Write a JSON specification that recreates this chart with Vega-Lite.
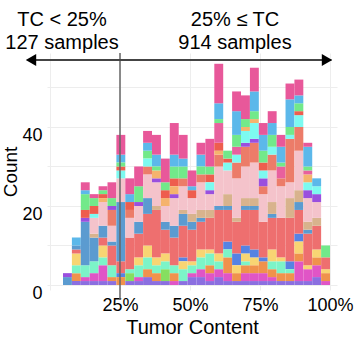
{
  "$schema": "https://vega.github.io/schema/vega-lite/v6.json",
  "width": 290,
  "height": 237,
  "autosize": {"type": "none"},
  "padding": {"left": 47, "top": 53, "right": 19, "bottom": 47},
  "background": "white",
  "config": {
    "font": "Liberation Sans",
    "view": {"stroke": null},
    "axis": {"labelFont": "Liberation Sans", "titleFont": "Liberation Sans"}
  },
  "datasets": {
    "bins": [
      {"b":0,"lo":4.64,"hi":7.82},{"b":1,"lo":7.82,"hi":11.0},{"b":2,"lo":11.0,"hi":14.18},{"b":3,"lo":14.18,"hi":17.36},
      {"b":4,"lo":17.36,"hi":20.54},{"b":5,"lo":20.54,"hi":23.71},{"b":6,"lo":23.71,"hi":26.89},{"b":7,"lo":26.89,"hi":30.07},
      {"b":8,"lo":30.07,"hi":33.25},{"b":9,"lo":33.25,"hi":36.43},{"b":10,"lo":36.43,"hi":39.61},{"b":11,"lo":39.61,"hi":42.79},
      {"b":12,"lo":42.79,"hi":45.97},{"b":13,"lo":45.97,"hi":49.15},{"b":14,"lo":49.15,"hi":52.33},{"b":15,"lo":52.33,"hi":55.5},
      {"b":16,"lo":55.5,"hi":58.68},{"b":17,"lo":58.68,"hi":61.86},{"b":18,"lo":61.86,"hi":65.04},{"b":19,"lo":65.04,"hi":68.22},
      {"b":20,"lo":68.22,"hi":71.4},{"b":21,"lo":71.4,"hi":74.58},{"b":22,"lo":74.58,"hi":77.76},{"b":23,"lo":77.76,"hi":80.94},
      {"b":24,"lo":80.94,"hi":84.12},{"b":25,"lo":84.12,"hi":87.29},{"b":26,"lo":87.29,"hi":90.47},{"b":27,"lo":90.47,"hi":93.65},
      {"b":28,"lo":93.65,"hi":96.83},{"b":29,"lo":96.83,"hi":100.0}
    ],
    "segs": [
      {"b":0,"c":8,"n":2},{"b":0,"c":12,"n":1},
      {"b":1,"c":0,"n":1},{"b":1,"c":2,"n":2},{"b":1,"c":4,"n":2},{"b":1,"c":5,"n":3},{"b":1,"c":7,"n":1},{"b":1,"c":8,"n":1},{"b":1,"c":18,"n":2},
      {"b":2,"c":0,"n":1},{"b":2,"c":1,"n":1},{"b":2,"c":4,"n":3},{"b":2,"c":8,"n":11},{"b":2,"c":12,"n":1},{"b":2,"c":17,"n":4},{"b":2,"c":15,"n":2},{"b":2,"c":18,"n":1},{"b":2,"c":19,"n":2},
      {"b":3,"c":0,"n":1},{"b":3,"c":1,"n":2},{"b":3,"c":4,"n":3},{"b":3,"c":8,"n":6},{"b":3,"c":9,"n":1},{"b":3,"c":10,"n":4},{"b":3,"c":13,"n":1},{"b":3,"c":15,"n":2},{"b":3,"c":17,"n":2},{"b":3,"c":19,"n":1},
      {"b":4,"c":0,"n":1},{"b":4,"c":1,"n":4},{"b":4,"c":4,"n":2},{"b":4,"c":5,"n":3},{"b":4,"c":7,"n":2},{"b":4,"c":8,"n":3},{"b":4,"c":10,"n":6},{"b":4,"c":17,"n":1},{"b":4,"c":15,"n":1},{"b":4,"c":14,"n":1},{"b":4,"c":19,"n":1},
      {"b":5,"c":0,"n":1},{"b":5,"c":2,"n":1},{"b":5,"c":4,"n":3},{"b":5,"c":7,"n":5},{"b":5,"c":8,"n":1},{"b":5,"c":10,"n":4},{"b":5,"c":11,"n":4},{"b":5,"c":12,"n":1},{"b":5,"c":17,"n":2},{"b":5,"c":19,"n":4},
      {"b":6,"c":6,"n":1},{"b":6,"c":2,"n":2},{"b":6,"c":7,"n":3},{"b":6,"c":8,"n":15},{"b":6,"c":10,"n":6},{"b":6,"c":13,"n":2},{"b":6,"c":15,"n":1},{"b":6,"c":18,"n":2},{"b":6,"c":17,"n":1},{"b":6,"c":19,"n":5},
      {"b":7,"c":0,"n":1},{"b":7,"c":3,"n":2},{"b":7,"c":4,"n":1},{"b":7,"c":7,"n":8},{"b":7,"c":10,"n":5},{"b":7,"c":11,"n":2},{"b":7,"c":15,"n":2},{"b":7,"c":18,"n":2},{"b":7,"c":19,"n":4},
      {"b":8,"c":0,"n":1},{"b":8,"c":1,"n":1},{"b":8,"c":4,"n":3},{"b":8,"c":5,"n":2},{"b":8,"c":7,"n":6},{"b":8,"c":8,"n":3},{"b":8,"c":10,"n":4},{"b":8,"c":12,"n":1},{"b":8,"c":17,"n":4},{"b":8,"c":19,"n":5},
      {"b":9,"c":0,"n":2},{"b":9,"c":2,"n":2},{"b":9,"c":4,"n":3},{"b":9,"c":5,"n":3},{"b":9,"c":7,"n":8},{"b":9,"c":8,"n":4},{"b":9,"c":10,"n":6},{"b":9,"c":11,"n":2},{"b":9,"c":17,"n":2},{"b":9,"c":13,"n":2},{"b":9,"c":18,"n":2},{"b":9,"c":19,"n":3},
      {"b":10,"c":0,"n":1},{"b":10,"c":2,"n":2},{"b":10,"c":4,"n":2},{"b":10,"c":5,"n":2},{"b":10,"c":7,"n":12},{"b":10,"c":9,"n":1},{"b":10,"c":10,"n":6},{"b":10,"c":12,"n":1},{"b":10,"c":14,"n":2},{"b":10,"c":18,"n":3},{"b":10,"c":17,"n":1},{"b":10,"c":19,"n":5},
      {"b":11,"c":0,"n":1},{"b":11,"c":3,"n":3},{"b":11,"c":4,"n":2},{"b":11,"c":5,"n":2},{"b":11,"c":7,"n":6},{"b":11,"c":8,"n":2},{"b":11,"c":10,"n":4},{"b":11,"c":14,"n":2},{"b":11,"c":15,"n":2},{"b":11,"c":17,"n":2},{"b":11,"c":19,"n":6},
      {"b":12,"c":1,"n":1},{"b":12,"c":2,"n":2},{"b":12,"c":4,"n":2},{"b":12,"c":7,"n":7},{"b":12,"c":8,"n":3},{"b":12,"c":10,"n":7},{"b":12,"c":15,"n":2},{"b":12,"c":12,"n":1},{"b":12,"c":17,"n":3},{"b":12,"c":14,"n":2},{"b":12,"c":18,"n":3},{"b":12,"c":19,"n":8},
      {"b":13,"c":0,"n":1},{"b":13,"c":6,"n":1},{"b":13,"c":4,"n":3},{"b":13,"c":5,"n":2},{"b":13,"c":7,"n":8},{"b":13,"c":8,"n":3},{"b":13,"c":9,"n":1},{"b":13,"c":10,"n":6},{"b":13,"c":11,"n":2},{"b":13,"c":17,"n":3},{"b":13,"c":18,"n":2},{"b":13,"c":19,"n":6},
      {"b":14,"c":0,"n":2},{"b":14,"c":1,"n":1},{"b":14,"c":4,"n":2},{"b":14,"c":5,"n":1},{"b":14,"c":7,"n":8},{"b":14,"c":8,"n":2},{"b":14,"c":9,"n":2},{"b":14,"c":10,"n":4},{"b":14,"c":15,"n":2},{"b":14,"c":18,"n":1},{"b":14,"c":19,"n":4},
      {"b":15,"c":0,"n":2},{"b":15,"c":1,"n":2},{"b":15,"c":4,"n":3},{"b":15,"c":5,"n":2},{"b":15,"c":7,"n":7},{"b":15,"c":8,"n":1},{"b":15,"c":9,"n":2},{"b":15,"c":10,"n":7},{"b":15,"c":11,"n":2},{"b":15,"c":18,"n":3},{"b":15,"c":17,"n":2},{"b":15,"c":19,"n":3},
      {"b":16,"c":0,"n":1},{"b":16,"c":1,"n":2},{"b":16,"c":2,"n":2},{"b":16,"c":4,"n":3},{"b":16,"c":5,"n":1},{"b":16,"c":7,"n":8},{"b":16,"c":9,"n":2},{"b":16,"c":10,"n":4},{"b":16,"c":15,"n":2},{"b":16,"c":12,"n":1},{"b":16,"c":13,"n":2},{"b":16,"c":17,"n":2},{"b":16,"c":19,"n":7},
      {"b":17,"c":0,"n":2},{"b":17,"c":1,"n":2},{"b":17,"c":4,"n":2},{"b":17,"c":5,"n":2},{"b":17,"c":7,"n":11},{"b":17,"c":8,"n":1},{"b":17,"c":10,"n":10},{"b":17,"c":11,"n":3},{"b":17,"c":14,"n":1},{"b":17,"c":15,"n":2},{"b":17,"c":16,"n":5},{"b":17,"c":17,"n":1},{"b":17,"c":18,"n":4},{"b":17,"c":19,"n":10},
      {"b":18,"c":0,"n":1},{"b":18,"c":1,"n":2},{"b":18,"c":2,"n":4},{"b":18,"c":6,"n":2},{"b":18,"c":4,"n":2},{"b":18,"c":7,"n":8},{"b":18,"c":8,"n":1},{"b":18,"c":9,"n":3},{"b":18,"c":10,"n":6},{"b":18,"c":13,"n":2},{"b":18,"c":15,"n":1},{"b":18,"c":17,"n":2},
      {"b":19,"c":0,"n":1},{"b":19,"c":2,"n":2},{"b":19,"c":6,"n":3},{"b":19,"c":5,"n":2},{"b":19,"c":7,"n":8},{"b":19,"c":9,"n":1},{"b":19,"c":10,"n":10},{"b":19,"c":11,"n":4},{"b":19,"c":13,"n":2},{"b":19,"c":16,"n":2},{"b":19,"c":17,"n":3},{"b":19,"c":18,"n":6},{"b":19,"c":19,"n":5},
      {"b":20,"c":0,"n":1},{"b":20,"c":1,"n":2},{"b":20,"c":2,"n":2},{"b":20,"c":4,"n":1},{"b":20,"c":5,"n":2},{"b":20,"c":6,"n":2},{"b":20,"c":7,"n":9},{"b":20,"c":8,"n":1},{"b":20,"c":9,"n":2},{"b":20,"c":10,"n":8},{"b":20,"c":11,"n":5},{"b":20,"c":12,"n":1},{"b":20,"c":13,"n":3},{"b":20,"c":14,"n":1},{"b":20,"c":17,"n":2},{"b":20,"c":19,"n":6},
      {"b":21,"c":0,"n":1},{"b":21,"c":1,"n":2},{"b":21,"c":2,"n":2},{"b":21,"c":5,"n":2},{"b":21,"c":6,"n":2},{"b":21,"c":7,"n":10},{"b":21,"c":8,"n":1},{"b":21,"c":9,"n":2},{"b":21,"c":10,"n":9},{"b":21,"c":11,"n":5},{"b":21,"c":12,"n":1},{"b":21,"c":14,"n":1},{"b":21,"c":13,"n":4},{"b":21,"c":17,"n":2},{"b":21,"c":18,"n":5},{"b":21,"c":19,"n":6},
      {"b":22,"c":0,"n":1},{"b":22,"c":1,"n":2},{"b":22,"c":2,"n":3},{"b":22,"c":6,"n":1},{"b":22,"c":7,"n":9},{"b":22,"c":10,"n":7},{"b":22,"c":11,"n":2},{"b":22,"c":12,"n":2},{"b":22,"c":13,"n":2},{"b":22,"c":15,"n":2},{"b":22,"c":17,"n":3},{"b":22,"c":18,"n":4},{"b":22,"c":19,"n":3},
      {"b":23,"c":0,"n":1},{"b":23,"c":1,"n":1},{"b":23,"c":2,"n":2},{"b":23,"c":4,"n":2},{"b":23,"c":5,"n":3},{"b":23,"c":7,"n":8},{"b":23,"c":8,"n":1},{"b":23,"c":9,"n":3},{"b":23,"c":10,"n":8},{"b":23,"c":11,"n":4},{"b":23,"c":13,"n":2},{"b":23,"c":17,"n":3},{"b":23,"c":18,"n":3},{"b":23,"c":19,"n":3},
      {"b":24,"c":0,"n":1},{"b":24,"c":2,"n":2},{"b":24,"c":4,"n":3},{"b":24,"c":5,"n":1},{"b":24,"c":7,"n":10},{"b":24,"c":10,"n":8},{"b":24,"c":11,"n":2},{"b":24,"c":16,"n":3},{"b":24,"c":17,"n":1},{"b":24,"c":18,"n":4},{"b":24,"c":19,"n":3},
      {"b":25,"c":0,"n":1},{"b":25,"c":2,"n":2},{"b":25,"c":6,"n":2},{"b":25,"c":4,"n":1},{"b":25,"c":7,"n":11},{"b":25,"c":9,"n":5},{"b":25,"c":10,"n":4},{"b":25,"c":11,"n":11},{"b":25,"c":13,"n":1},{"b":25,"c":17,"n":2},{"b":25,"c":18,"n":7},{"b":25,"c":19,"n":4},
      {"b":26,"c":0,"n":1},{"b":26,"c":1,"n":5},{"b":26,"c":6,"n":2},{"b":26,"c":2,"n":2},{"b":26,"c":5,"n":3},{"b":26,"c":7,"n":6},{"b":26,"c":8,"n":2},{"b":26,"c":9,"n":3},{"b":26,"c":10,"n":10},{"b":26,"c":11,"n":6},{"b":26,"c":13,"n":3},{"b":26,"c":15,"n":1},{"b":26,"c":17,"n":2},{"b":26,"c":18,"n":2},{"b":26,"c":19,"n":4},
      {"b":27,"c":0,"n":1},{"b":27,"c":1,"n":3},{"b":27,"c":5,"n":1},{"b":27,"c":7,"n":8},{"b":27,"c":8,"n":1},{"b":27,"c":9,"n":2},{"b":27,"c":10,"n":6},{"b":27,"c":12,"n":2},{"b":27,"c":13,"n":2},{"b":27,"c":14,"n":2},{"b":27,"c":16,"n":1},{"b":27,"c":17,"n":1},{"b":27,"c":18,"n":5},{"b":27,"c":19,"n":1},
      {"b":28,"c":0,"n":2},{"b":28,"c":1,"n":3},{"b":28,"c":2,"n":2},{"b":28,"c":5,"n":2},{"b":28,"c":7,"n":6},{"b":28,"c":9,"n":2},{"b":28,"c":10,"n":4},{"b":28,"c":12,"n":2},{"b":28,"c":13,"n":2},{"b":28,"c":18,"n":2},
      {"b":29,"c":1,"n":1},{"b":29,"c":2,"n":2},{"b":29,"c":5,"n":1},{"b":29,"c":7,"n":3},{"b":29,"c":17,"n":3}
    ],
    "one": [{}]
  },
  "layer": [
    {
      "data": {"name": "segs"},
      "transform": [
        {"lookup": "b", "from": {"data": {"name": "bins"}, "key": "b", "fields": ["lo", "hi"]}},
        {"stack": "n", "groupby": ["b"], "sort": [{"field": "c", "order": "ascending"}], "as": ["y0", "y1"]}
      ],
      "mark": {"type": "rect", "strokeWidth": 0},
      "encoding": {
        "x": {
          "field": "lo", "type": "quantitative",
          "scale": {"domain": [-1.071, 102.5], "nice": false, "zero": false},
          "axis": {
            "values": [0, 12.5, 25, 37.5, 50, 62.5, 75, 87.5, 100],
            "labelExpr": "datum.value > 0 && datum.value % 25 == 0 ? datum.value + '%' : ''",
            "grid": true, "gridColor": "#EDEDED", "gridWidth": 1,
            "domain": false, "ticks": false,
            "labelFontSize": 18, "labelColor": "#000000", "labelPadding": 6,
            "labelOverlap": false, "labelFlush": false, "labelBound": false,
            "title": "Tumor Content", "titleFontSize": 20, "titleFontWeight": "normal",
            "titleColor": "#000000", "titlePadding": 3
          }
        },
        "x2": {"field": "hi"},
        "y": {
          "field": "y1", "type": "quantitative",
          "scale": {"domain": [-1.266, 58.73], "nice": false, "zero": false},
          "axis": {
            "values": [0, 10, 20, 30, 40, 50],
            "labelExpr": "datum.value % 20 == 0 ? datum.value : ''",
            "grid": true, "gridColor": "#EDEDED", "gridWidth": 1,
            "domain": false, "ticks": false,
            "labelFontSize": 18, "labelColor": "#000000", "labelPadding": 5,
            "labelOffset": 9, "labelFlush": false, "labelBound": false, "labelOverlap": false,
            "title": "Count", "titleFontSize": 19, "titleFontWeight": "normal",
            "titleColor": "#000000", "titlePadding": 1
          }
        },
        "y2": {"field": "y0"},
        "color": {
          "field": "c", "type": "nominal", "legend": null,
          "scale": {
            "domain": [0,1,2,3,4,5,6,7,8,9,10,11,12,13,14,15,16,17,18,19],
            "range": ["#8B6FE0","#E055C6","#F0924C","#86DF60","#7CF4C8","#F8D573","#5683E3","#EE6F6F","#5B9BD0","#D8B38D","#F4C3CB","#EC7C69","#9A4FDE","#7DFAF0","#F5B36D","#EE5D4E","#E8609E","#72E98A","#5CB8EA","#E8589A"]
          }
        }
      }
    },
    {
      "data": {"name": "one"},
      "mark": {"type": "rule", "color": "#666666", "strokeWidth": 1.5},
      "encoding": {
        "x": {"datum": 25},
        "y": {"datum": 58.73},
        "y2": {"datum": -3.8}
      }
    },
    {
      "data": {"name": "one"},
      "mark": {"type": "rule", "color": "#444444", "strokeWidth": 2},
      "encoding": {
        "x": {"datum": -7.5},
        "x2": {"datum": 100.5},
        "y": {"datum": 56.96}
      }
    },
    {
      "data": {"name": "one"},
      "mark": {"type": "point", "shape": "triangle-left", "filled": true, "color": "#000000", "size": 144, "opacity": 1},
      "encoding": {"x": {"datum": -6.79}, "y": {"datum": 56.96}}
    },
    {
      "data": {"name": "one"},
      "mark": {"type": "point", "shape": "triangle-right", "filled": true, "color": "#000000", "size": 144, "opacity": 1},
      "encoding": {"x": {"datum": 98.93}, "y": {"datum": 56.96}}
    },
    {
      "data": {"name": "one"},
      "mark": {"type": "text", "fontSize": 20, "align": "center", "baseline": "alphabetic", "lineHeight": 22.5, "color": "#000000"},
      "encoding": {"x": {"datum": 4.29}, "y": {"datum": 65.44}, "text": {"value": ["TC < 25%", "127 samples"]}}
    },
    {
      "data": {"name": "one"},
      "mark": {"type": "text", "fontSize": 20, "align": "center", "baseline": "alphabetic", "lineHeight": 22.5, "color": "#000000"},
      "encoding": {"x": {"datum": 66.07}, "y": {"datum": 65.44}, "text": {"value": ["25% ≤ TC", "914 samples"]}}
    }
  ]
}
